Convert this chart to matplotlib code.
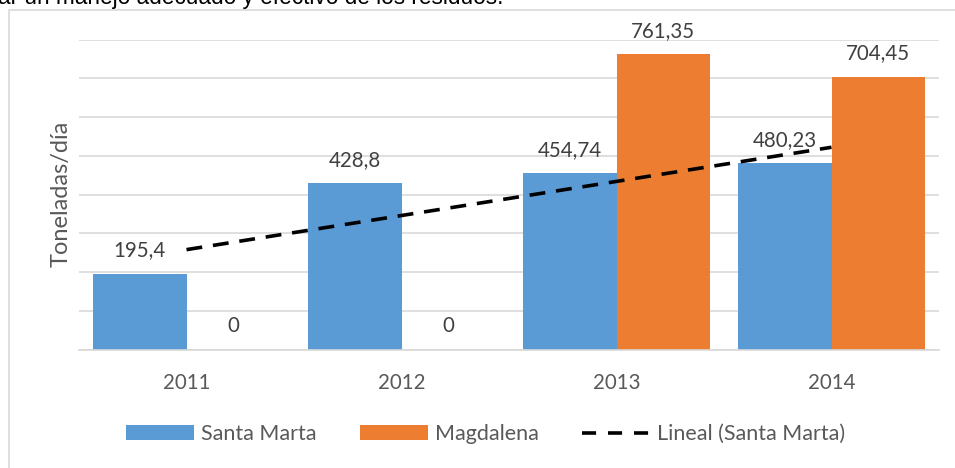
import numpy as np
import matplotlib
matplotlib.use("Agg")
import matplotlib.pyplot as plt
from matplotlib.patches import Patch, Rectangle
from matplotlib.lines import Line2D

# ---- data ----
years = ["2011", "2012", "2013", "2014"]
santa_marta = [195.4, 428.8, 454.74, 480.23]
magdalena = [0, 0, 761.35, 704.45]
sm_labels = ["195,4", "428,8", "454,74", "480,23"]
mg_labels = ["0", "0", "761,35", "704,45"]

BLUE = "#5B9BD5"
ORANGE = "#ED7D31"
GRID = "#D9D9D9"
TXT = "#595959"
LBL = "#404040"

plt.rcParams["font.family"] = ["Lato", "DejaVu Sans"]

W, H = 955, 468
fig = plt.figure(figsize=(W / 100, H / 100), dpi=100)

# chart area border (left & top visible)
fig.patches.append(Rectangle((9 / W, -0.1), 2.0, 1 - 10 / H + 0.1,
                             transform=fig.transFigure, fill=False,
                             edgecolor=GRID, linewidth=1.2))

# cut-off text from document above
fig.text(-2 / W, 1 - 4 / H, "ar un manejo adecuado y efectivo de los residuos.",
         ha="left", va="baseline", fontsize=16.3, color="black",
         family=["Liberation Sans", "DejaVu Sans"])

left, right = 79 / W, 939 / W
bottom, top = 1 - 349.5 / H, 1 - 39.5 / H
ax = fig.add_axes([left, bottom, right - left, top - bottom])

x = np.arange(len(years))
bw = 0.4345
b1 = ax.bar(x - bw / 2, santa_marta, width=bw, color=BLUE, zorder=2)
b2 = ax.bar(x + bw / 2, magdalena, width=bw, color=ORANGE, zorder=2)

for rect, lab in zip(b1, sm_labels):
    ax.annotate(lab, (rect.get_x() + rect.get_width() / 2, rect.get_height()),
                xytext=(0, 17), textcoords="offset points", ha="center",
                va="center", fontsize=14.8, color=LBL)
for rect, lab in zip(b2, mg_labels):
    ax.annotate(lab, (rect.get_x() + rect.get_width() / 2, rect.get_height()),
                xytext=(0, 17), textcoords="offset points", ha="center",
                va="center", fontsize=14.8, color=LBL)

# linear trend of Santa Marta
coef = np.polyfit(x + 1, santa_marta, 1)
trend = np.polyval(coef, x + 1)
tl, = ax.plot(x, trend, color="black", linewidth=2.6, zorder=3)
tl.set_dashes([4.4, 3.0])

ax.set_xlim(-0.5, len(years) - 0.5)
ax.set_ylim(0, 800)
ax.set_yticks(np.arange(0, 801, 100))
ax.yaxis.grid(True, color=GRID, linewidth=1.2, zorder=0)
ax.set_axisbelow(True)
ax.tick_params(axis="y", left=False, labelleft=False)
ax.set_xticks(x)
ax.set_xticklabels(years, fontsize=14.8, color=TXT)
ax.tick_params(axis="x", length=0, pad=17)
for s in ["top", "right", "left"]:
    ax.spines[s].set_visible(False)
ax.spines["bottom"].set_color(GRID)
ax.spines["bottom"].set_linewidth(1.2)

fig.text(61 / W, 1 - 194 / H, "Toneladas/día", rotation=90, ha="center",
         va="center", fontsize=17, color=TXT)

handles = [Patch(facecolor=BLUE, edgecolor="none"),
           Patch(facecolor=ORANGE, edgecolor="none"),
           Line2D([], [], color="black", linewidth=2.6, dashes=[3.9, 3.3])]
fs_leg = 15.5
leg = fig.legend(handles, ["Santa Marta", "Magdalena", "Lineal (Santa Marta)"],
                 loc="center left", bbox_to_anchor=(126 / W, 1 - 434 / H),
                 ncol=3, frameon=False, fontsize=fs_leg, handlelength=3.16,
                 handleheight=0.65, handletextpad=0.33, columnspacing=2.0,
                 borderpad=0, borderaxespad=0)
for t in leg.get_texts():
    t.set_color(TXT)

fig.savefig("out.png", dpi=100)
